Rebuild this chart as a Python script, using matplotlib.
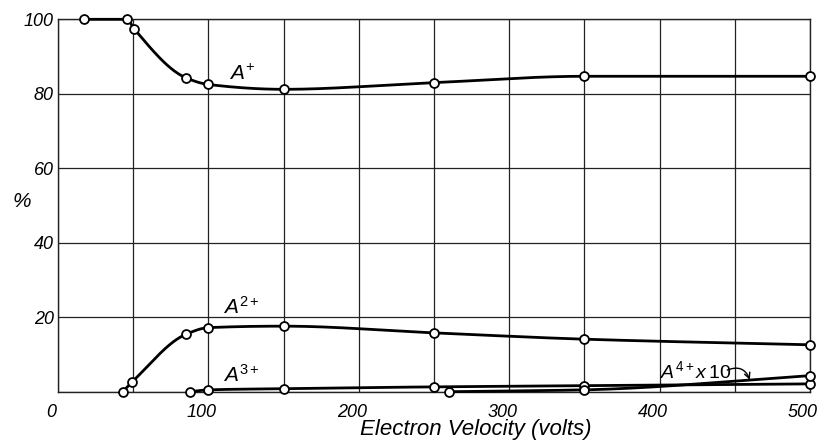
import numpy as np
import matplotlib
matplotlib.use("Agg")
import matplotlib.pyplot as plt
import matplotlib.transforms as mtransforms

# ---- data ----
a1_x = [17, 46, 50.5, 85, 100, 150, 250, 350, 500]
a1_y = [100, 100, 97.5, 84.3, 82.5, 81.2, 83.0, 84.7, 84.7]

a2_x = [43, 49.5, 85, 100, 150, 250, 350, 500]
a2_y = [0, 2.7, 15.4, 17.2, 17.6, 15.8, 14.1, 12.6]

a3_x = [88, 100, 150, 250, 350, 500]
a3_y = [0, 0.5, 0.8, 1.3, 1.6, 2.1]

a4_x = [260, 350, 500]
a4_y = [0, 0.5, 4.3]

x_ticks = [0, 100, 200, 300, 400, 500]
y_ticks = [20, 40, 60, 80, 100]


def pchip(x, y, xs):
    x = np.asarray(x, float)
    y = np.asarray(y, float)
    n = len(x)
    h = np.diff(x)
    d = np.diff(y) / h
    m = np.zeros(n)
    m[0] = d[0]
    m[-1] = d[-1]
    for k in range(1, n - 1):
        if d[k - 1] * d[k] <= 0:
            m[k] = 0.0
        else:
            w1 = 2 * h[k] + h[k - 1]
            w2 = h[k] + 2 * h[k - 1]
            m[k] = (w1 + w2) / (w1 / d[k - 1] + w2 / d[k])
    out = np.empty_like(xs)
    idx = np.clip(np.searchsorted(x, xs) - 1, 0, n - 2)
    for i, (xv, k) in enumerate(zip(xs, idx)):
        t = (xv - x[k]) / h[k]
        h00 = 2 * t**3 - 3 * t**2 + 1
        h10 = t**3 - 2 * t**2 + t
        h01 = -2 * t**3 + 3 * t**2
        h11 = t**3 - t**2
        out[i] = h00 * y[k] + h10 * h[k] * m[k] + h01 * y[k + 1] + h11 * h[k] * m[k + 1]
    return out


plt.rcParams['font.family'] = ['Liberation Sans', 'DejaVu Sans']
plt.rcParams['mathtext.fontset'] = 'custom'
plt.rcParams['mathtext.it'] = 'Liberation Sans:italic'
plt.rcParams['mathtext.rm'] = 'Liberation Sans'

fig = plt.figure(figsize=(8.23, 4.42), dpi=100)
ax = fig.add_axes([58 / 823, 1 - 391.7 / 442, (810 - 58) / 823, (391.7 - 19.3) / 442])
ax.set_xlim(0, 500)
ax.set_ylim(0, 100)

ax.set_xticks(np.arange(0, 501, 50))
ax.set_xticklabels([str(v) if v in x_ticks else "" for v in np.arange(0, 501, 50)])
ax.set_yticks([0] + y_ticks)
ax.set_yticklabels([""] + [str(v) for v in y_ticks])
ax.tick_params(length=0, labelsize=13)
ax.tick_params(axis='x', pad=9)
ax.tick_params(axis='y', pad=3)
shift = mtransforms.ScaledTranslation(-7 / 100, 0, fig.dpi_scale_trans)
for lab in ax.get_xticklabels():
    lab.set_fontstyle('italic')
    lab.set_transform(lab.get_transform() + shift)
for lab in ax.get_yticklabels():
    lab.set_fontstyle('italic')

ax.grid(True, color='#222222', linewidth=0.9)
ax.set_axisbelow(True)
for s in ax.spines.values():
    s.set_linewidth(1.0)
    s.set_color('#222222')

for xs_, ys_ in [(a1_x, a1_y), (a2_x, a2_y), (a3_x, a3_y), (a4_x, a4_y)]:
    xx = np.linspace(xs_[0], xs_[-1], 400)
    ax.plot(xx, pchip(xs_, ys_, xx), color='black', lw=2.0, zorder=3, clip_on=False)
    ax.plot(xs_, ys_, 'o', ms=6.4, mfc='white', mec='black', mew=1.3, zorder=4, clip_on=False)

tk = dict(fontsize=15)
ax.text(114, 85.3, r"$A^{+}$", va='center', ha='left', **tk)
ax.text(110, 22.8, r"$A^{2+}$", va='center', ha='left', **tk)
ax.text(110, 4.6, r"$A^{3+}$", va='center', ha='left', **tk)
ax.text(400, 5.6, r"$A^{4+}x\,10$", va='center', ha='left', fontsize=14)
ax.annotate("", xy=(460, 3.2), xytext=(445, 5.8),
            arrowprops=dict(arrowstyle='->', color='black', lw=1.0,
                            connectionstyle='arc3,rad=-0.5', shrinkA=0, shrinkB=0))

fig.text(476 / 823, 1 - 430 / 442, "Electron Velocity (volts)", ha='center', va='center',
         fontsize=16, fontstyle='italic')
fig.text(22 / 823, 1 - 202 / 442, "%", ha='center', va='center', fontsize=15, fontstyle='italic')

fig.savefig("out.png", dpi=100)
